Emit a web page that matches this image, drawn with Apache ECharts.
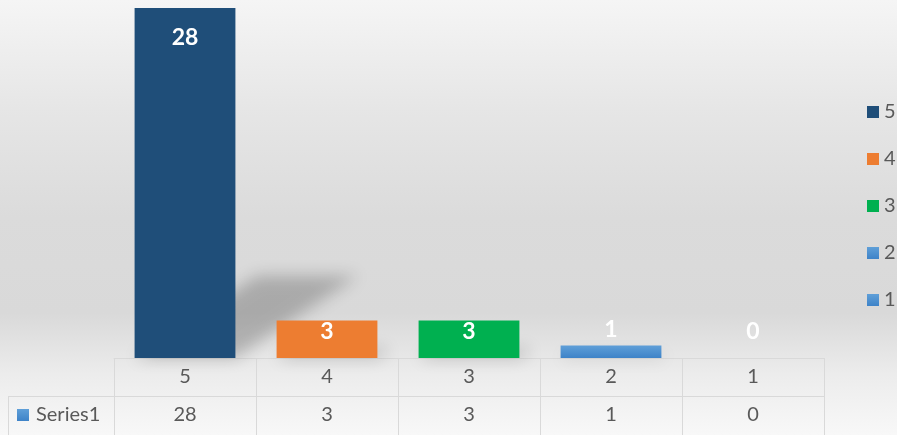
<!DOCTYPE html>
<html><head><meta charset="utf-8">
<script src="https://cdn.jsdelivr.net/npm/echarts@6/dist/echarts.min.js"></script>
<style>html,body{margin:0;padding:0;overflow:hidden}#c{width:897px;height:435px;}</style>
</head><body><div id="c"></div>
<script>
// ---- data ----
const categories = ['5', '4', '3', '2', '1'];
const values = [28, 3, 3, 1, 0];
const seriesName = 'Series1';

// ---- styles ----
const blueGrad = new echarts.graphic.LinearGradient(0, 0, 0, 1, [
  { offset: 0, color: '#5f9fd8' }, { offset: 1, color: '#3e83c8' }]);
const colors = ['#1F4E79', '#ED7D31', '#00B050', blueGrad, blueGrad];
const labelStyles = [
  { position: 'insideTop', distance: 18 },
  { position: 'insideTop', distance: 0 },
  { position: 'insideTop', distance: 0 },
  { position: 'top', distance: 4 },
  { position: 'top', distance: 15 }
];
const FONT = 'Lato, "Open Sans", sans-serif';
const TXT = '#595959';
const LINE = '#d9d9d9';
const FS = 20;

const chart = echarts.init(document.getElementById('c'), null, { renderer: 'canvas' });

const series = categories.map((name, i) => ({
  name: name,
  type: 'bar',
  stack: 'all',
  barWidth: '71%',
  z: 3,
  data: values.map((v, j) => (j === i ? v : '-')),
  itemStyle: { color: colors[i] },
  label: Object.assign({
    show: true, color: '#ffffff', fontWeight: 'bold', fontSize: 23, fontFamily: FONT
  }, labelStyles[i])
}));

chart.setOption({
  animation: false,
  backgroundColor: new echarts.graphic.LinearGradient(0, 0, 0, 1, [
    { offset: 0, color: '#f5f5f5' },
    { offset: 0.25, color: '#e6e6e6' },
    { offset: 0.5, color: '#dbdbdb' },
    { offset: 0.72, color: '#d9d9d9' },
    { offset: 0.86, color: '#ececec' },
    { offset: 1, color: '#f8f8f8' }
  ]),
  textStyle: { fontFamily: FONT },
  grid: { left: 114, right: 73, top: 8, bottom: 77, containLabel: false },
  legend: {
    orient: 'vertical',
    left: 862,
    top: 97,
    icon: 'rect',
    itemWidth: 12,
    itemHeight: 12,
    itemGap: 27,
    selectedMode: false,
    data: categories,
    textStyle: { color: TXT, fontSize: FS, lineHeight: 18, fontFamily: FONT }
  },
  xAxis: {
    type: 'category',
    data: categories,
    axisLine: { show: true, lineStyle: { color: LINE, width: 1 } },
    axisTick: { show: true, interval: 0, length: 77, lineStyle: { color: LINE, width: 1 } },
    axisLabel: {
      interval: 0,
      margin: 0,
      formatter: (val, idx) => '{h|' + val + '}\n{v|' + values[idx] + '}',
      rich: {
        h: { fontSize: FS, lineHeight: 38, color: TXT, fontFamily: FONT },
        v: { fontSize: FS, lineHeight: 38, color: TXT, fontFamily: FONT }
      }
    }
  },
  yAxis: {
    type: 'value', min: 0, max: 28, show: false, splitLine: { show: false }
  },
  series: series
});

// decorations: table border parts, series key, bar floor shadows
function buildGraphics() {
  const g = [];
  const base = chart.convertToPixel({ gridIndex: 0 }, [0, 0]);
  const c1 = chart.convertToPixel({ gridIndex: 0 }, [1, 0]);
  const band = c1[0] - base[0];
  const bw = band * 0.71;
  const OFF = 3000;
  values.forEach((v, i) => {
    const top = chart.convertToPixel({ gridIndex: 0 }, [i, v]);
    const h = base[1] - top[1];
    if (h <= 0) return;
    const xl = top[0] - bw / 2, xr = top[0] + bw / 2, yb = base[1];
    const dx = h * 0.35, dy = h * 0.235;
    g.push({
      type: 'polygon', z: 1, silent: true,
      shape: { points: [[xl - OFF, yb], [xr - OFF, yb], [xr + dx - OFF, yb - dy], [xl + dx - OFF, yb - dy]] },
      style: { fill: '#000', shadowBlur: 16, shadowColor: 'rgba(0,0,0,0.22)', shadowOffsetX: OFF, shadowOffsetY: 0 }
    });
  });
  const rowY = base[1] + 38;
  const gridRight = chart.convertToPixel({ gridIndex: 0 }, [categories.length - 1, 0])[0] + band / 2;
  g.push({ type: 'line', z: 5, silent: true, shape: { x1: 8, y1: rowY + 0.5, x2: gridRight, y2: rowY + 0.5 }, style: { stroke: LINE, lineWidth: 1 } });
  g.push({ type: 'line', z: 5, silent: true, shape: { x1: 8.5, y1: rowY, x2: 8.5, y2: 435 }, style: { stroke: LINE, lineWidth: 1 } });
  g.push({ type: 'rect', z: 5, silent: true, shape: { x: 17, y: rowY + 13, width: 12, height: 12 }, style: { fill: blueGrad } });
  g.push({ type: 'text', z: 5, silent: true, x: 36, y: rowY + 19,
    style: { text: seriesName, fill: TXT, font: FS + 'px ' + FONT, verticalAlign: 'middle', align: 'left' } });
  return g;
}
chart.setOption({ graphic: buildGraphics() });
</script>
</body></html>
